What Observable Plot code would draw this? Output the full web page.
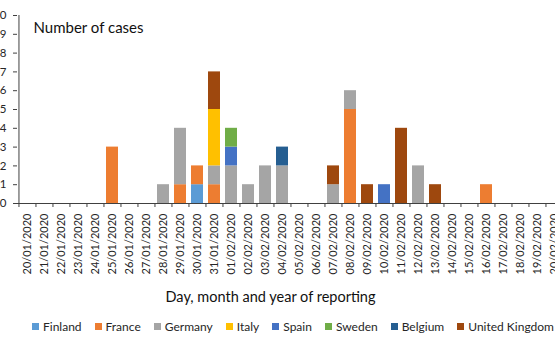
<!DOCTYPE html>
<html>
<head>
<meta charset="utf-8">
<script src="https://cdn.jsdelivr.net/npm/d3@7"></script>
<script src="https://cdn.jsdelivr.net/npm/@observablehq/plot@0.6"></script>
<style>
  html, body { margin: 0; padding: 0; background: white; overflow: hidden; width: 555px; height: 346px; }
  #chart { position: relative; width: 555px; height: 346px; }
  #legend { position: absolute; left: 32px; top: 319px; width: 522px; display: flex; justify-content: space-between; align-items: center;
            font-family: Lato, sans-serif; font-size: 12px; color: #262626; }
  #legend .item { display: flex; align-items: center; white-space: nowrap; }
  #legend .sw { width: 7px; height: 7px; margin-right: 4px; display: inline-block; }
</style>
</head>
<body>
<div id="chart"></div>
<script>
const dates = ["20/01/2020","21/01/2020","22/01/2020","23/01/2020","24/01/2020","25/01/2020","26/01/2020","27/01/2020",
  "28/01/2020","29/01/2020","30/01/2020","31/01/2020","01/02/2020","02/02/2020","03/02/2020","04/02/2020",
  "05/02/2020","06/02/2020","07/02/2020","08/02/2020","09/02/2020","10/02/2020","11/02/2020","12/02/2020",
  "13/02/2020","14/02/2020","15/02/2020","16/02/2020","17/02/2020","18/02/2020","19/02/2020","20/02/2020"];
const countries = ["Finland","France","Germany","Italy","Spain","Sweden","Belgium","United Kingdom"];
const colors = ["#5B9BD5","#ED7D31","#A5A5A5","#FFC000","#4472C4","#70AD47","#255E91","#9E480E"];
//                 20 21 22 23 24 25 26 27 28 29 30 31 01 02 03 04 05 06 07 08 09 10 11 12 13 14 15 16 17 18 19 20
const finland =  [0, 0, 0, 0, 0, 0, 0, 0, 0, 0, 1, 0, 0, 0, 0, 0, 0, 0, 0, 0, 0, 0, 0, 0, 0, 0, 0, 0, 0, 0, 0, 0];
const france =   [0, 0, 0, 0, 0, 3, 0, 0, 0, 1, 1, 1, 0, 0, 0, 0, 0, 0, 0, 5, 0, 0, 0, 0, 0, 0, 0, 1, 0, 0, 0, 0];
const germany =  [0, 0, 0, 0, 0, 0, 0, 0, 1, 3, 0, 1, 2, 1, 2, 2, 0, 0, 1, 1, 0, 0, 0, 2, 0, 0, 0, 0, 0, 0, 0, 0];
const italy =    [0, 0, 0, 0, 0, 0, 0, 0, 0, 0, 0, 3, 0, 0, 0, 0, 0, 0, 0, 0, 0, 0, 0, 0, 0, 0, 0, 0, 0, 0, 0, 0];
const spain =    [0, 0, 0, 0, 0, 0, 0, 0, 0, 0, 0, 0, 1, 0, 0, 0, 0, 0, 0, 0, 0, 1, 0, 0, 0, 0, 0, 0, 0, 0, 0, 0];
const sweden =   [0, 0, 0, 0, 0, 0, 0, 0, 0, 0, 0, 0, 1, 0, 0, 0, 0, 0, 0, 0, 0, 0, 0, 0, 0, 0, 0, 0, 0, 0, 0, 0];
const belgium =  [0, 0, 0, 0, 0, 0, 0, 0, 0, 0, 0, 0, 0, 0, 0, 1, 0, 0, 0, 0, 0, 0, 0, 0, 0, 0, 0, 0, 0, 0, 0, 0];
const uk =       [0, 0, 0, 0, 0, 0, 0, 0, 0, 0, 0, 2, 0, 0, 0, 0, 0, 0, 1, 0, 1, 0, 4, 0, 1, 0, 0, 0, 0, 0, 0, 0];
const yTicks = [0,1,2,3,4,5,6,7,8,9,10];
const title = "Number of cases";
const xTitle = "Day, month and year of reporting";

const series = [finland, france, germany, italy, spain, sweden, belgium, uk];
const data = [];
series.forEach((vals, ci) => vals.forEach((v, di) => { if (v > 0) data.push({date: dates[di], country: countries[ci], count: v}); }));

const x0 = 17, x1 = 564;
const step = (x1 - x0) / dates.length;
const axisColor = "#404040";
const textColor = "#262626";

const plot = Plot.plot({
  width: 555,
  height: 306,
  marginTop: 15,
  marginBottom: 103,
  marginLeft: 17,
  marginRight: 0,
  style: {fontFamily: "Lato, sans-serif", fontSize: "11px", color: textColor, background: "white", overflow: "visible"},
  x: {type: "band", domain: dates, range: [x0, x1], paddingInner: 0.3, paddingOuter: 0.15, label: null},
  y: {domain: [0, 10], label: null},
  color: {domain: countries, range: colors},
  marks: [
    Plot.barY(data, {x: "date", y: "count", fill: "country", order: countries}),
    Plot.ruleY([0], {stroke: axisColor}),
    Plot.ruleX([dates[0]], {y1: 0, y2: 10, dx: -step / 2, stroke: axisColor}),
    Plot.ruleX(dates, {y1: 0, y2: 0, insetBottom: -4, dx: -step / 2, stroke: axisColor}),
    Plot.axisY({ticks: yTicks, tickSize: 4, tickPadding: 7, label: null, fontSize: 11.5, fill: textColor, stroke: axisColor}),
    Plot.axisX({tickSize: 0, tickRotate: -90, tickPadding: 10, label: null, fontSize: 11, fill: textColor}),
    Plot.text([title], {frameAnchor: "top-left", dx: 16, dy: 13, textAnchor: "start", lineAnchor: "middle", fontSize: 15, fill: "#111"}),
    Plot.text([xTitle], {frameAnchor: "bottom", dx: -16, dy: 94, lineAnchor: "middle", fontSize: 14.5, fill: "#111"})
  ]
});
const chart = document.getElementById("chart");
chart.appendChild(plot);

const legend = document.createElement("div");
legend.id = "legend";
countries.forEach((c, i) => {
  const item = document.createElement("span");
  item.className = "item";
  const sw = document.createElement("span");
  sw.className = "sw";
  sw.style.background = colors[i];
  item.appendChild(sw);
  item.appendChild(document.createTextNode(c));
  legend.appendChild(item);
});
chart.appendChild(legend);
</script>
</body>
</html>
